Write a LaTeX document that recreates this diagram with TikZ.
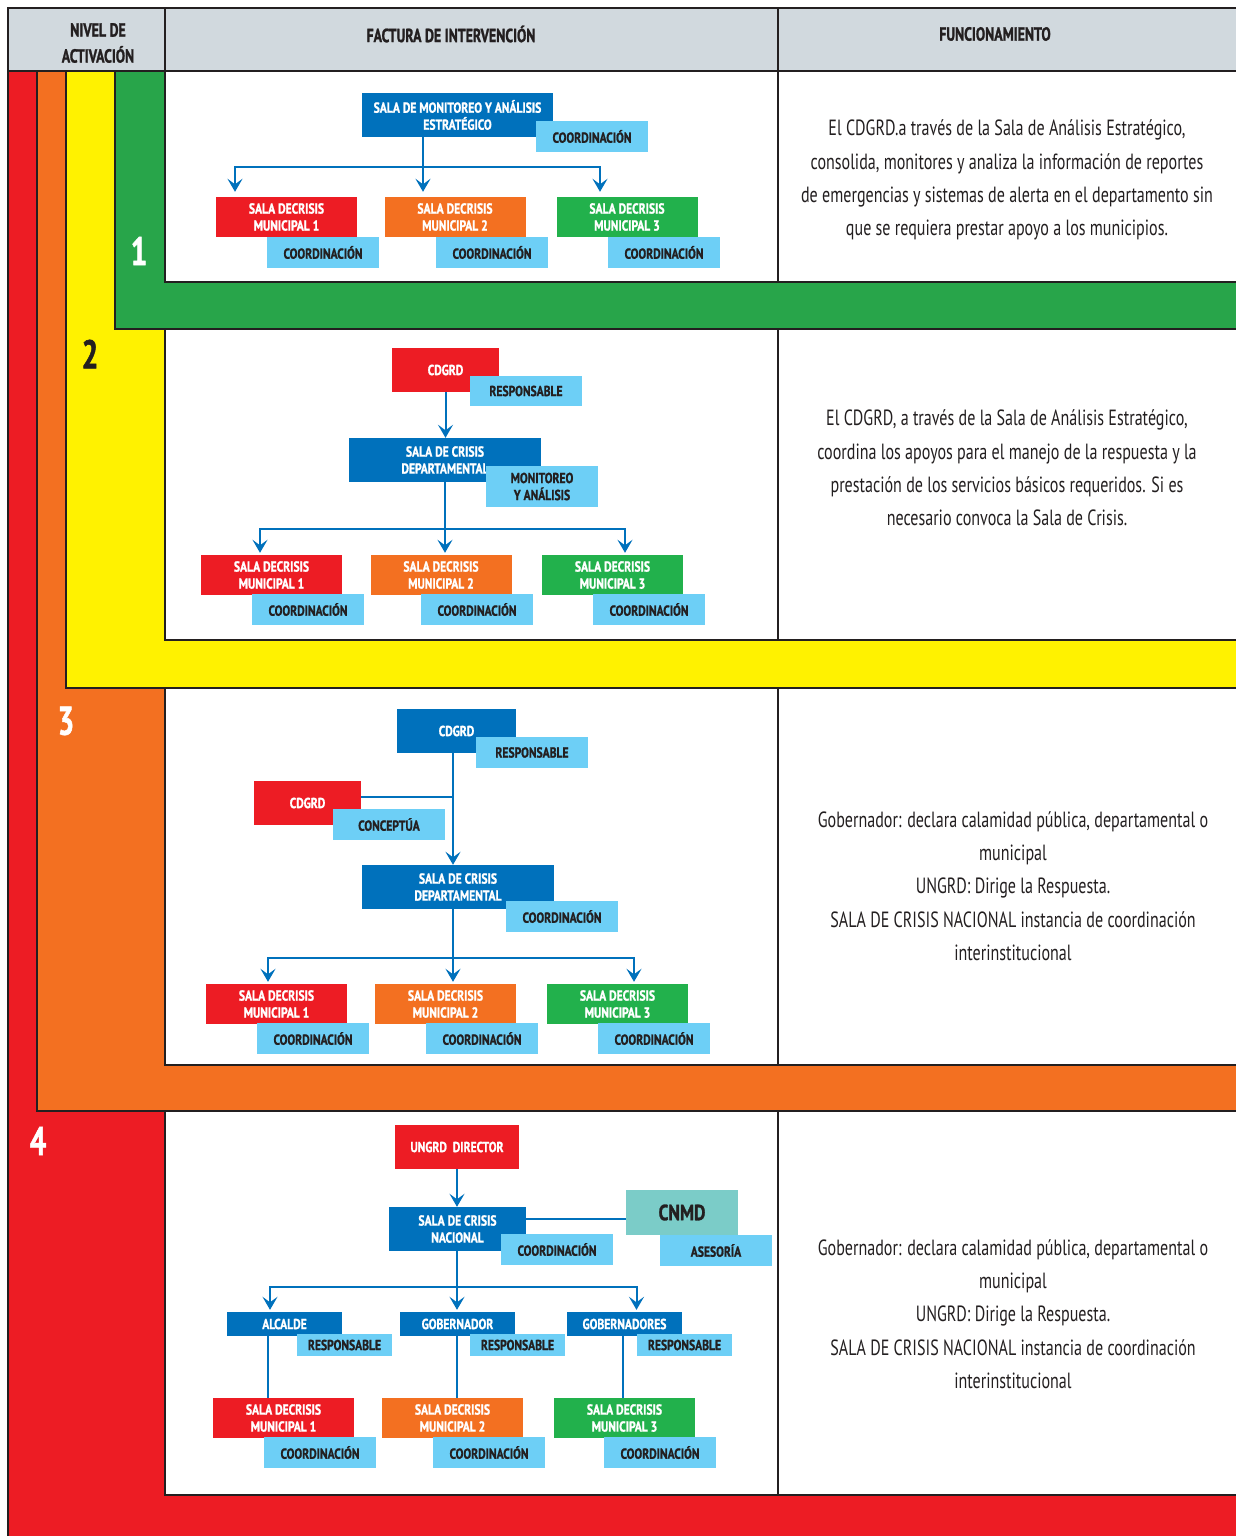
\documentclass[tikz,border=0pt]{standalone}
\usepackage{fontspec}
\newfontfamily\cond{PT Sans}[FakeStretch=0.73,BoldFeatures={FakeBold=1.2}]
\newfontfamily\condb{PT Sans}[FakeStretch=0.8,BoldFeatures={FakeBold=1.2}]
\usepackage{xcolor}
\usetikzlibrary{arrows.meta}
\definecolor{cred}{HTML}{ED1C24}
\definecolor{corange}{HTML}{F37021}
\definecolor{cyellow}{HTML}{FFF200}
\definecolor{cgreen}{HTML}{28A54A}
\definecolor{cgreenbox}{HTML}{22B14C}
\definecolor{cblue}{HTML}{0071BC}
\definecolor{clight}{HTML}{6DCFF6}
\definecolor{cteal}{HTML}{7BCCC8}
\definecolor{cgray}{HTML}{D1D9DE}
\definecolor{cdark}{HTML}{231F20}

\begin{document}
\begin{tikzpicture}[x=1pt,y=-1pt,
  band/.style={draw=cdark,line width=1.6pt},
  box/.style={inner sep=0pt,align=center,text=white,font=\condb\bfseries\fontsize{14.5}{17}\selectfont},
  mun/.style={box,minimum width=141pt,minimum height=40pt},
  tag/.style={box,fill=clight,text=cdark,minimum width=112pt,minimum height=31pt},
  head/.style={align=center,text=cdark,font=\cond\bfseries\fontsize{19}{26}\selectfont},
  desc/.style={align=center,text=cdark,font=\cond\fontsize{22}{33.3}\selectfont},
  lvl/.style={font=\cond\bfseries\fontsize{40}{40}\selectfont},
  wire/.style={draw=cblue,line width=2pt},
  tip/.style={wire,-{Stealth[length=13pt,width=15pt,inset=5.5pt]}}]
\useasboundingbox (0,0) rectangle (1235,1536);
\fill[white] (0,0) rectangle (1235,1536);

% bandas de nivel
\filldraw[band,fill=cred] (8,71) rectangle (1245,1545);
\filldraw[band,fill=corange] (37,71) rectangle (1245,1111);
\filldraw[band,fill=cyellow] (66,71) rectangle (1245,688);
\filldraw[band,fill=cgreen] (115,71) rectangle (1245,329);
\foreach \ya/\yb in {71/282, 329/640, 688/1065, 1111/1495}{
  \filldraw[band,fill=white] (165,\ya) rectangle (1245,\yb);
  \draw[band] (778,\ya) -- (778,\yb);
}
% cabecera
\filldraw[band,fill=cgray] (8,8) rectangle (1245,71);
\draw[band] (165,8) -- (165,71) (778,8) -- (778,71);
\node[head] (h1) at (98,43) {NIVEL DE\\ACTIVACIÓN};
\node[head] (h2) at (451,34) {FACTURA DE INTERVENCIÓN};
\node[head] (h3) at (995,34) {FUNCIONAMIENTO};

\node[lvl,text=white] (n1) at (139,251) {1};
\node[lvl,text=cdark] (n2) at (90,354) {2};
\node[lvl,text=white] (n3) at (66,721) {3};
\node[lvl,text=white] (n4) at (38,1141) {4};

% nivel 1
\node[box,fill=cblue,minimum width=191pt,minimum height=44pt] (s1) at (457.5,115) {SALA DE MONITOREO Y ANÁLISIS\\ESTRATÉGICO};
\node[tag] (s1t) at (592,136.5) {COORDINACIÓN};
\node[mun,fill=cred] (m11) at (286.5,217) {SALA DECRISIS\\MUNICIPAL 1};
\node[tag] (m11t) at (323,252.5) {COORDINACIÓN};
\node[mun,fill=corange] (m12) at (455,217) {SALA DECRISIS\\MUNICIPAL 2};
\node[tag] (m12t) at (492,252.5) {COORDINACIÓN};
\node[mun,fill=cgreenbox] (m13) at (627,217) {SALA DECRISIS\\MUNICIPAL 3};
\node[tag] (m13t) at (664,252.5) {COORDINACIÓN};
\coordinate (j1) at (423,167);
\draw[wire] (j1 |- s1.south) -- (j1);
\draw[tip,shorten >=5pt] (j1) -| ([xshift=-51.5pt]m11.north);
\draw[tip,shorten >=5pt] (j1) -- (j1 |- m12.north);
\draw[tip,shorten >=5pt] (j1) -| ([xshift=-27pt]m13.north);
\node[desc] (f1) at (1007,180) {El CDGRD.a través de la Sala de Análisis Estratégico,\\consolida, monitores y analiza la información de reportes\\de emergencias y sistemas de alerta en el departamento sin\\que se requiera prestar apoyo a los municipios.};

% nivel 2
\node[box,fill=cred,minimum width=107pt,minimum height=44pt] (c2) at (445.5,370) {CDGRD};
\node[tag,minimum height=30pt] (c2t) at (526,391) {RESPONSABLE};
\node[box,fill=cblue,minimum width=192pt,minimum height=44pt] (s2) at (445,460) {SALA DE CRISIS\\DEPARTAMENTAL};
\node[tag,minimum height=41pt] (s2t) at (542,486.5) {MONITOREO\\Y ANÁLISIS};
\node[mun,fill=cred] (m21) at (271.5,575) {SALA DECRISIS\\MUNICIPAL 1};
\node[tag] (m21t) at (308,609.5) {COORDINACIÓN};
\node[mun,fill=corange] (m22) at (441,575) {SALA DECRISIS\\MUNICIPAL 2};
\node[tag] (m22t) at (477,609.5) {COORDINACIÓN};
\node[mun,fill=cgreenbox] (m23) at (612.5,575) {SALA DECRISIS\\MUNICIPAL 3};
\node[tag] (m23t) at (649,609.5) {COORDINACIÓN};
\draw[tip] (c2.south) -- (c2.south |- s2.north);
\coordinate (j2) at (445,529);
\draw[wire] (j2 |- s2.south) -- (j2);
\draw[tip,shorten >=2pt] (j2) -| ([xshift=-11.5pt]m21.north);
\draw[tip,shorten >=2pt] (j2) -- (j2 |- m22.north);
\draw[tip,shorten >=2pt] (j2) -| ([xshift=12.5pt]m23.north);
\node[desc] (f2) at (1007,468) {El CDGRD, a través de la Sala de Análisis Estratégico,\\coordina los apoyos para el manejo de la respuesta y la\\prestación de los servicios básicos requeridos. Si es\\necesario convoca la Sala de Crisis.};

% nivel 3
\node[box,fill=cblue,minimum width=119pt,minimum height=44pt] (c3) at (456.5,731) {CDGRD};
\node[tag] (c3t) at (532,752.5) {RESPONSABLE};
\node[box,fill=cred,minimum width=107pt,minimum height=44pt] (r3) at (307.5,803) {CDGRD};
\node[tag] (r3t) at (389,824.5) {CONCEPTÚA};
\node[box,fill=cblue,minimum width=192pt,minimum height=44pt] (s3) at (458,887) {SALA DE CRISIS\\DEPARTAMENTAL};
\node[tag] (s3t) at (562,916.5) {COORDINACIÓN};
\node[mun,fill=cred] (m31) at (276.5,1004) {SALA DECRISIS\\MUNICIPAL 1};
\node[tag] (m31t) at (313,1038.5) {COORDINACIÓN};
\node[mun,fill=corange] (m32) at (445.5,1004) {SALA DECRISIS\\MUNICIPAL 2};
\node[tag] (m32t) at (482,1038.5) {COORDINACIÓN};
\node[mun,fill=cgreenbox] (m33) at (617.5,1004) {SALA DECRISIS\\MUNICIPAL 3};
\node[tag] (m33t) at (654,1038.5) {COORDINACIÓN};
\coordinate (j3a) at (453,797);
\draw[tip] (j3a |- c3.south) -- (j3a |- s3.north);
\draw[wire] ([yshift=6pt]r3.east) -- (j3a);
\coordinate (j3) at (453,958);
\draw[wire] (j3 |- s3.south) -- (j3);
\draw[tip,shorten >=2pt] (j3) -| ([xshift=-8.5pt]m31.north);
\draw[tip,shorten >=2pt] (j3) -- (j3 |- m32.north);
\draw[tip,shorten >=2pt] (j3) -| ([xshift=16.5pt]m33.north);
\node[desc] (f3) at (1013,886) {Gobernador: declara calamidad pública, departamental o\\municipal\\UNGRD: Dirige la Respuesta.\\SALA DE CRISIS NACIONAL instancia de coordinación\\interinstitucional};

% nivel 4
\node[box,fill=cred,minimum width=124pt,minimum height=44pt] (u4) at (457,1147) {UNGRD\ \ DIRECTOR};
\node[box,fill=cblue,minimum width=137pt,minimum height=44pt] (s4) at (457.5,1229) {SALA DE CRISIS\\NACIONAL};
\node[box,fill=cteal,text=cdark,minimum width=112pt,minimum height=45pt,font=\condb\bfseries\fontsize{22}{22}\selectfont] (cn) at (682,1212.5) {CNMD};
\draw[tip] (u4) -- (u4 |- s4.north);
\draw[wire] ([yshift=10pt]s4.east) -- ([yshift=10pt]s4.east -| cn.west);
\node[tag] (s4t) at (557,1249.5) {COORDINACIÓN};
\node[tag] (cnt) at (716,1250.5) {ASESORÍA};
\node[box,fill=cblue,minimum width=115pt,minimum height=24pt] (p41) at (284.5,1324) {ALCALDE};
\node[box,fill=cblue,minimum width=115pt,minimum height=24pt] (p42) at (457.5,1324) {GOBERNADOR};
\node[box,fill=cblue,minimum width=115pt,minimum height=24pt] (p43) at (624.5,1324) {GOBERNADORES};
\node[mun,fill=cred] (m41) at (283.5,1418) {SALA DECRISIS\\MUNICIPAL 1};
\node[mun,fill=corange] (m42) at (452.5,1418) {SALA DECRISIS\\MUNICIPAL 2};
\node[mun,fill=cgreenbox] (m43) at (624.5,1418) {SALA DECRISIS\\MUNICIPAL 3};
\coordinate (j4) at (457,1287);
\draw[wire] (j4 |- s4.south) -- (j4);
\draw[tip,shorten >=2pt] (j4) -| ([xshift=-14.5pt]p41.north);
\draw[tip,shorten >=2pt] (j4) -- (j4 |- p42.north);
\draw[tip,shorten >=2pt] (j4) -| ([xshift=12pt]p43.north);
\draw[wire] ([xshift=-16.5pt]p41.south) -- ([xshift=-16.5pt]p41.south |- m41.north);
\draw[wire] ([xshift=-0.5pt]p42.south) -- ([xshift=-0.5pt]p42.south |- m42.north);
\draw[wire] ([xshift=-1.5pt]p43.south) -- ([xshift=-1.5pt]p43.south |- m43.north);
\node[tag,minimum width=95pt,minimum height=22pt] (p41t) at (344.5,1345) {RESPONSABLE};
\node[tag,minimum width=95pt,minimum height=22pt] (p42t) at (517.5,1345) {RESPONSABLE};
\node[tag,minimum width=95pt,minimum height=22pt] (p43t) at (684.5,1345) {RESPONSABLE};
\node[tag] (m41t) at (320,1452.5) {COORDINACIÓN};
\node[tag] (m42t) at (489,1452.5) {COORDINACIÓN};
\node[tag] (m43t) at (660,1452.5) {COORDINACIÓN};
\node[desc] (f4) at (1013,1314) {Gobernador: declara calamidad pública, departamental o\\municipal\\UNGRD: Dirige la Respuesta.\\SALA DE CRISIS NACIONAL instancia de coordinación\\interinstitucional};
\end{tikzpicture}
\end{document}
